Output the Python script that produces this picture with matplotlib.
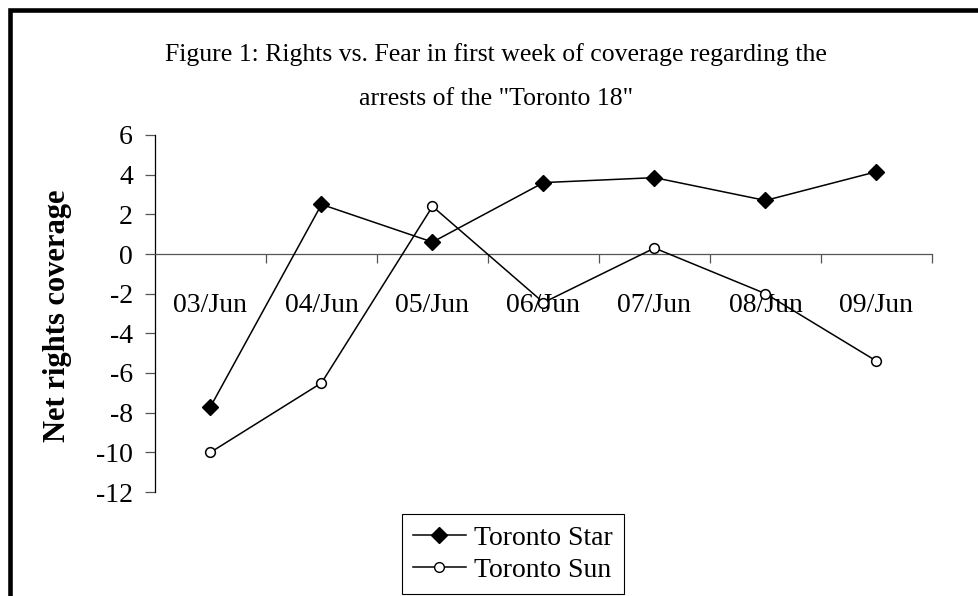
#!/usr/bin/env python3
"""Net rights coverage per day, Toronto Star vs Toronto Sun (Excel-style line chart)."""
import matplotlib
matplotlib.use("Agg")
import matplotlib.pyplot as plt
from matplotlib.lines import Line2D
from matplotlib.patches import Rectangle

plt.rcParams["font.family"] = ["Liberation Serif", "DejaVu Serif"]

DAYS = ["03/Jun", "04/Jun", "05/Jun", "06/Jun", "07/Jun", "08/Jun", "09/Jun"]
STAR = [-7.7, 2.5, 0.6, 3.6, 3.85, 2.7, 4.15]
SUN = [-10.0, -6.5, 2.4, -2.45, 0.3, -2.0, -5.4]
Y_TICKS = list(range(-12, 7, 2))

TITLE_1 = "Figure 1: Rights vs. Fear in first week of coverage regarding the"
TITLE_2 = 'arrests of the "Toronto 18"'
Y_LABEL = "Net rights coverage"

W, H = 979, 596
AXIS_GREY = "#555555"


def fx(px):
    return px / W


def fy(py):
    return 1 - py / H


def main():
    fig = plt.figure(figsize=(W / 100, H / 100), dpi=100)
    ax = fig.add_axes([fx(155), fy(492), (932 - 155) / W, (492 - 135) / H])

    n = len(DAYS)
    xs = [i + 0.5 for i in range(n)]
    ax.plot(xs, STAR, color="black", lw=1.1, marker="D", ms=8,
            mfc="black", mec="black", label="Toronto Star", zorder=3)
    ax.plot(xs, SUN, color="black", lw=1.1, marker="o", ms=7,
            mfc="white", mec="black", mew=1.1, label="Toronto Sun", zorder=3)

    ax.set_xlim(0, n)
    ax.set_ylim(Y_TICKS[0], Y_TICKS[-1])

    # category axis crosses at zero; ticks sit between the categories
    for side in ("top", "right"):
        ax.spines[side].set_visible(False)
    ax.spines["bottom"].set_position(("data", 0))
    ax.spines["bottom"].set_color(AXIS_GREY)
    ax.spines["left"].set_color("black")
    ax.spines["bottom"].set_linewidth(0.9)
    ax.spines["left"].set_linewidth(0.9)

    ax.set_xticks(range(1, n + 1))
    ax.set_xticklabels([])
    ax.tick_params(axis="x", which="major", direction="out", length=6.5,
                   width=0.9, color=AXIS_GREY)
    ax.set_xticks(xs, minor=True)
    ax.set_xticklabels(DAYS, minor=True, fontsize=20)
    ax.tick_params(axis="x", which="minor", length=0, pad=28)

    ax.set_yticks(Y_TICKS)
    ax.set_yticklabels([str(v) for v in Y_TICKS], fontsize=20)
    ax.tick_params(axis="y", direction="out", length=7, width=0.9,
                   color=AXIS_GREY, pad=9)

    fig.text(fx(58), fy(316), Y_LABEL, rotation=90, ha="center", va="center",
             fontsize=22, fontweight="bold")

    fig.text(fx(496), fy(61), TITLE_1, ha="center", va="baseline", fontsize=18.5)
    fig.text(fx(496), fy(105), TITLE_2, ha="center", va="baseline", fontsize=18.5)

    handles = [
        Line2D([0], [0], color="black", lw=1.1, marker="D", ms=8,
               mfc="black", mec="black"),
        Line2D([0], [0], color="black", lw=1.1, marker="o", ms=7,
               mfc="white", mec="black"),
    ]
    leg = fig.legend(handles, ["Toronto Star", "Toronto Sun"], loc="upper center",
                     bbox_to_anchor=(fx(513), fy(514)), fontsize=20,
                     frameon=True, fancybox=False, framealpha=1,
                     edgecolor="black", handlelength=1.9, handletextpad=0.3,
                     borderpad=0.4, labelspacing=0.25, borderaxespad=0)
    leg.get_frame().set_linewidth(0.8)

    # the chart's outer frame runs off the right and bottom edges of the image
    fig.patches.append(Rectangle((fx(9.5), -1), 2, fy(9.5) + 1,
                                 transform=fig.transFigure, fill=False,
                                 edgecolor="black", lw=3.3, clip_on=False))

    fig.savefig("out.png", dpi=100)


if __name__ == "__main__":
    main()
